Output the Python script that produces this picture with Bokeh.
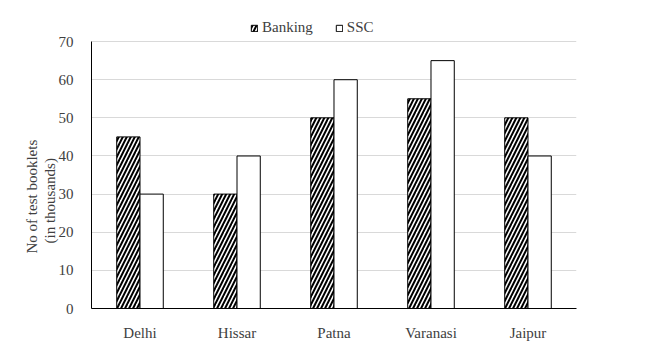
from bokeh.plotting import figure
from bokeh.models import FactorRange, Legend, LegendItem, ColumnDataSource, Title
from bokeh.transform import dodge
from bokeh.embed import file_html
from bokeh.resources import INLINE

cities = ["Delhi", "Hissar", "Patna", "Varanasi", "Jaipur"]
banking = [45, 30, 50, 55, 50]
ssc = [30, 40, 60, 65, 40]
y_ticks = [0, 10, 20, 30, 40, 50, 60, 70]
y_title = ["(in thousands)", "No of test booklets"]

src = ColumnDataSource(dict(city=cities, banking=banking, ssc=ssc))

FONT = "Liberation Serif"
TXT = "#404040"

# frame extends above 70 to make room for the legend (70 sits at ~41px from top)
p = figure(x_range=FactorRange(*cities, range_padding=0), y_range=(0, 77.1),
           width=657, height=357, output_backend="svg", toolbar_location=None,
           min_border_left=91, min_border_right=81, min_border_top=14, min_border_bottom=49)
p.outline_line_color = None
p.background_fill_color = "white"
p.border_fill_color = "white"

b1 = p.vbar(x=dodge("city", -0.12, range=p.x_range), top="banking", width=0.24, source=src,
            fill_color="white", line_color="black", line_width=1,
            hatch_pattern="/", hatch_color="black", hatch_scale=8, hatch_weight=2)
b2 = p.vbar(x=dodge("city", 0.12, range=p.x_range), top="ssc", width=0.24, source=src,
            fill_color="white", line_color="black", line_width=1)

p.yaxis.ticker = y_ticks
p.yaxis.bounds = (0, 70)
p.xgrid.grid_line_color = None
p.ygrid.grid_line_color = "#d9d9d9"
p.ygrid.grid_line_width = 1

for ax in (p.xaxis[0], p.yaxis[0]):
    ax.major_tick_line_color = None
    ax.minor_tick_line_color = None
    ax.axis_line_color = "black"
    ax.axis_line_width = 1
    ax.major_label_text_font = FONT
    ax.major_label_text_font_size = "15px"
    ax.major_label_text_color = TXT
p.xaxis.major_label_standoff = 10
p.yaxis.major_label_standoff = 12

for t, off, so in zip(y_title, [65, 55], [-4, 3]):
    p.add_layout(Title(text=t, align="left", offset=off, standoff=so,
                       text_font=FONT, text_font_size="15px", text_font_style="normal",
                       text_color=TXT), "left")

legend = Legend(items=[LegendItem(label="Banking", renderers=[b1]),
                       LegendItem(label="SSC", renderers=[b2])],
                orientation="horizontal", location=(159, 272),
                label_text_font=FONT, label_text_font_size="15px", label_text_color=TXT,
                glyph_width=8, glyph_height=8, label_standoff=4, spacing=22,
                label_height=15, padding=2, margin=0, border_line_color=None,
                background_fill_alpha=0)
p.add_layout(legend, "center")

open("out.html", "w").write(file_html(p, INLINE))
